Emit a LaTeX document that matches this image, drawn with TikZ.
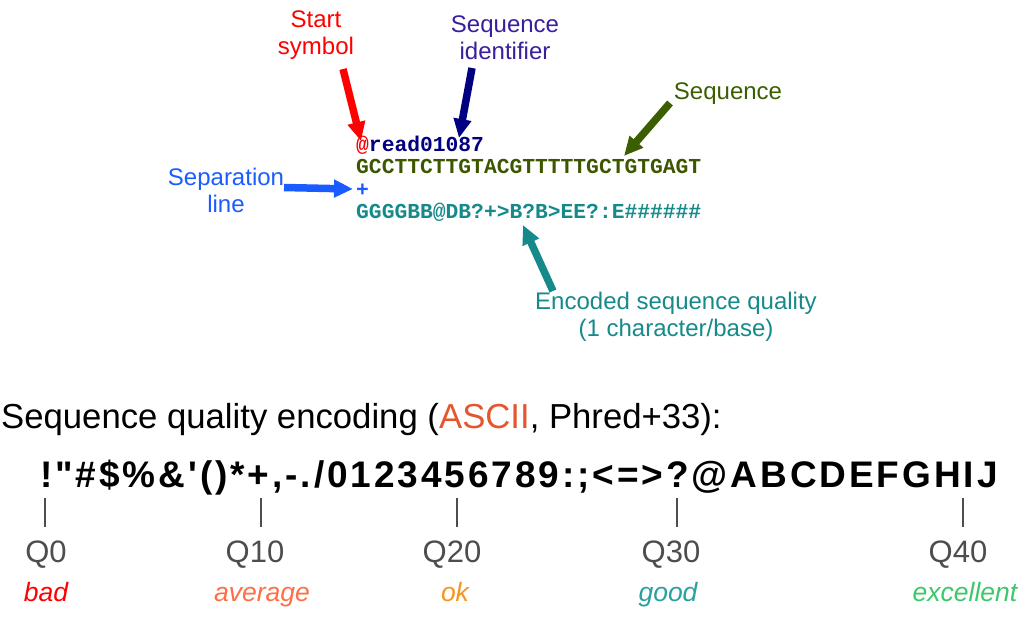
\documentclass[tikz,border=0pt]{standalone}
\usepackage{fontspec}
\setmainfont{Liberation Sans}
\setmonofont{Liberation Mono}
\newfontfamily\charsfont{Liberation Sans}[LetterSpace=7.9]
\usetikzlibrary{arrows.meta}
\definecolor{cred}{HTML}{FF0000}
\definecolor{cnavy}{HTML}{000080}
\definecolor{cindigo}{HTML}{3A1E9E}
\definecolor{cgreen}{HTML}{3B5E00}
\definecolor{cseq}{HTML}{3D5600}
\definecolor{cblue}{HTML}{1A5CFF}
\definecolor{cteal}{HTML}{168A8A}
\definecolor{cgray}{HTML}{4D4D4D}
\definecolor{cascii}{HTML}{E4572E}
\definecolor{cavg}{HTML}{FF6F45}
\definecolor{cok}{HTML}{F7941D}
\definecolor{cgood}{HTML}{2AA0A0}
\definecolor{cexc}{HTML}{3CC86A}
\tikzset{
  lbl/.style={font=\fontsize{24}{27}\selectfont, align=center, inner sep=0pt},
  code/.style={font=\fontsize{21.3}{22}\selectfont\ttfamily\bfseries, anchor=base west, inner sep=0pt},
  fat/.style={line width=7.5pt, -{Triangle[length=19pt,width=17pt]}},
  tick/.style={draw=cgray, line width=2.6pt},
  qlbl/.style={font=\fontsize{31}{33}\selectfont, text=cgray, anchor=base, inner sep=0pt},
  verdict/.style={font=\fontsize{26.5}{28}\selectfont\itshape, anchor=base, inner sep=0pt},
}
\begin{document}
\begin{tikzpicture}[x=1pt,y=-1pt]
\useasboundingbox (0,0) rectangle (1024,619);

% labels
\node[lbl, text=cred] (lstart) at (316,35) {Start\\symbol};
\node[lbl, text=cindigo] (lident) at (505,38) {Sequence\\identifier};
\node[lbl, text=cgreen] (lseq) at (728,94) {Sequence};
\node[lbl, text=cblue] (lsep) at (226,190) {Separation\\line};
\node[lbl, text=cteal] (lenc) at (676,317) {Encoded sequence quality\\(1 character/base)};

% code lines
\node[code] (l1) at (356,151) {\textcolor{cred}{@}\textcolor{cnavy}{read01087}};
\node[code, text=cseq] (l2) at (356,173.5) {GCCTTCTTGTACGTTTTTGCTGTGAGT};
\node[code, text=cblue] (l3) at (356,196) {+};
\node[code, text=cteal] (l4) at (356,218) {GGGGBB@DB?+>B?B>EE?:E\#\#\#\#\#\#};

% arrow ends
\coordinate (ts) at (343,69);  \coordinate (hs) at (361,141);
\coordinate (ti) at (472,68);  \coordinate (hi) at (459,138);
\coordinate (tq) at (670,103); \coordinate (hq) at (624,156);
\coordinate (tp) at (284,187.5); \coordinate (hp) at (353,189);
\coordinate (te) at (553,291); \coordinate (he) at (523,225);

\draw[fat, draw=cred, fill=cred] (ts) -- (hs);
\draw[fat, draw=cnavy, fill=cnavy] (ti) -- (hi);
\draw[fat, draw=cgreen, fill=cgreen] (tq) -- (hq);
\draw[fat, draw=cblue, fill=cblue] (tp) -- (hp);
\draw[fat, draw=cteal, fill=cteal] (te) -- (he);

% encoding title
\node[font=\fontsize{34.7}{38}\selectfont, anchor=base west, inner sep=0pt] (title) at (1,428)
  {Sequence quality encoding (\textcolor{cascii}{ASCII}, Phred+33):};

% characters
\node[font=\fontsize{37}{40}\selectfont\charsfont\bfseries, anchor=base west, inner sep=0pt] (chars) at (40,487)
  {!"\#\$\%\&'()*+,-./0123456789:;<=>?@ABCDEFGHIJ};

% ticks
\foreach \x/\n in {45/t0,261/t10,457/t20,677/t30,963/t40}{
  \coordinate (\n a) at (\x,498);
  \coordinate (\n b) at (\x,527);
  \draw[tick] (\n a) -- (\n b);
}

% Q labels
\node[qlbl] (q0) at (46,562) {Q0};
\node[qlbl] (q10) at (255,562) {Q10};
\node[qlbl] (q20) at (452,562) {Q20};
\node[qlbl] (q30) at (671,562) {Q30};
\node[qlbl] (q40) at (958,562) {Q40};

% verdicts
\node[verdict, text=cred] (vbad) at (46,601) {bad};
\node[verdict, text=cavg] (vavg) at (262,601) {average};
\node[verdict, text=cok] (vok) at (455,601) {ok};
\node[verdict, text=cgood] (vgood) at (668,601) {good};
\node[verdict, text=cexc] (vexc) at (965,601) {excellent};
\end{tikzpicture}
\end{document}
